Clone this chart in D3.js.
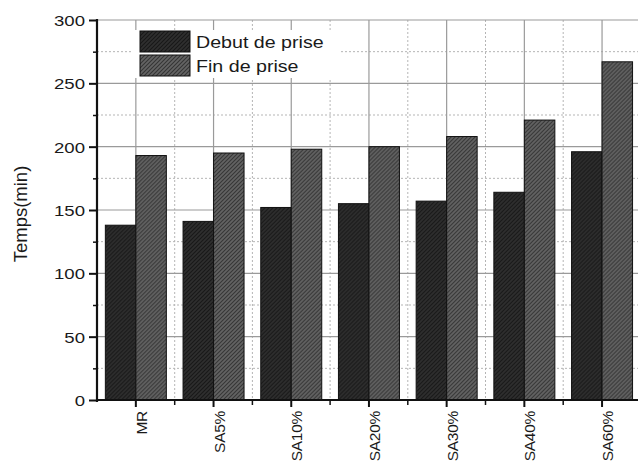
<!DOCTYPE html>
<html>
<head>
<meta charset="utf-8">
<script src="https://cdn.jsdelivr.net/npm/d3@7"></script>
<style>
  html, body { margin: 0; padding: 0; background: #fff; }
  svg { display: block; font-family: "Liberation Sans", Arial, sans-serif; }
</style>
</head>
<body>
<svg id="chart" width="638" height="466"></svg>
<script>
// Setting times of the mortar mixes (minutes)
const categories = ["MR", "SA5%", "SA10%", "SA20%", "SA30%", "SA40%", "SA60%"];
const seriesNames = ["Debut de prise", "Fin de prise"];
const debutValues = [138, 141, 152, 155, 157, 164, 196];
const finValues = [193, 195, 198, 200, 208, 221, 267];
const yTicks = [0, 50, 100, 150, 200, 250, 300];
const yMinorTicks = [25, 75, 125, 175, 225, 275];
const yTitle = "Temps(min)";

const svg = d3.select("#chart");
const plotLeft = 97, plotTop = 20, plotBottom = 400;
const step = 77.7;
const plotRight = plotLeft + categories.length * step;

const x = d3.scaleBand().domain(categories).range([plotLeft, plotRight])
  .paddingInner(0.215).paddingOuter(0.1075);
const xs = d3.scaleBand().domain(seriesNames).range([0, x.bandwidth()]);
const y = d3.scaleLinear().domain([0, 300]).range([plotBottom, plotTop]);

// Hatch patterns for the two series
const defs = svg.append("defs");
const hatch = [
  { id: "hatch0", bg: "#2f2f2f", line: "#171717" },
  { id: "hatch1", bg: "#646464", line: "#343434" }
];
hatch.forEach(h => {
  const p = defs.append("pattern").attr("id", h.id)
    .attr("patternUnits", "userSpaceOnUse").attr("width", 4).attr("height", 4);
  p.append("rect").attr("width", 4).attr("height", 4).attr("fill", h.bg);
  p.append("path").attr("d", "M-1,1 l2,-2 M0,4 l4,-4 M3,5 l2,-2")
    .attr("stroke", h.line).attr("stroke-width", 1.1);
});

// Category centres and boundaries between categories
const centers = categories.map(c => x(c) + x.bandwidth() / 2);
const bounds = centers.slice(0, -1).map(c => c + x.step() / 2);

// Grid
const grid = svg.append("g");
grid.selectAll(".hmin").data(yMinorTicks).join("line")
  .attr("x1", plotLeft).attr("x2", 638).attr("y1", d => y(d)).attr("y2", d => y(d))
  .attr("stroke", "#b5b5b5").attr("stroke-width", 1).attr("stroke-dasharray", "2,2");
grid.selectAll(".vmin").data(bounds).join("line")
  .attr("x1", d => d).attr("x2", d => d).attr("y1", plotTop).attr("y2", plotBottom)
  .attr("stroke", "#b5b5b5").attr("stroke-width", 1).attr("stroke-dasharray", "2,2");
grid.selectAll(".hmaj").data(yTicks.slice(1)).join("line")
  .attr("x1", plotLeft).attr("x2", 638).attr("y1", d => y(d)).attr("y2", d => y(d))
  .attr("stroke", "#9a9a9a").attr("stroke-width", 1.2);
grid.selectAll(".vmaj").data(centers).join("line")
  .attr("x1", d => d).attr("x2", d => d).attr("y1", plotTop).attr("y2", plotBottom)
  .attr("stroke", "#9a9a9a").attr("stroke-width", 1.2);

// Bars
const rows = categories.map((c, i) => ({ cat: c, values: [debutValues[i], finValues[i]] }));
const groups = svg.append("g").selectAll("g").data(rows).join("g")
  .attr("transform", d => `translate(${x(d.cat)},0)`);
groups.selectAll("rect").data(d => d.values.map((v, k) => ({ name: seriesNames[k], k, v })))
  .join("rect")
  .attr("x", d => xs(d.name))
  .attr("width", xs.bandwidth())
  .attr("y", d => y(d.v))
  .attr("height", d => y(0) - y(d.v))
  .attr("fill", d => `url(#hatch${d.k})`)
  .attr("stroke", "#111").attr("stroke-width", 1);

// Legend
const lg = svg.append("g");
lg.append("rect").attr("x", 133).attr("y", 30).attr("width", 208).attr("height", 48).attr("fill", "#fff");
seriesNames.forEach((n, k) => {
  const yy = 31 + k * 24;
  lg.append("rect").attr("x", 140).attr("y", yy).attr("width", 50).attr("height", 21)
    .attr("fill", `url(#hatch${k})`).attr("stroke", "#111").attr("stroke-width", 1);
  lg.append("text").text(n)
    .attr("transform", `translate(196,${yy + 17}) scale(1.19,1)`)
    .attr("font-size", 16.5).attr("fill", "#1a1a1a");
});

// Y axis
const yAxis = svg.append("g").attr("transform", `translate(${plotLeft},0)`)
  .call(d3.axisLeft(y).tickValues(yTicks).tickSize(8).tickPadding(4).tickFormat(d3.format("d")));
yAxis.select(".domain").remove();
yAxis.selectAll(".tick line").attr("stroke", "#111").attr("stroke-width", 2);
yAxis.selectAll(".tick text")
  .attr("font-size", 15.5).attr("fill", "#1a1a1a")
  .attr("x", 0).attr("dy", "0.36em")
  .attr("transform", "translate(-12,0) scale(1.2,1)");
svg.append("g").attr("transform", `translate(${plotLeft},0)`)
  .call(d3.axisLeft(y).tickValues(yMinorTicks).tickSize(4).tickFormat(""))
  .call(g => g.select(".domain").remove())
  .selectAll(".tick line").attr("stroke", "#111").attr("stroke-width", 1.5);
svg.append("line").attr("x1", plotLeft).attr("x2", plotLeft).attr("y1", plotTop - 1).attr("y2", plotBottom + 2)
  .attr("stroke", "#111").attr("stroke-width", 2.2);

// X axis
const xAxis = svg.append("g").attr("transform", `translate(0,${plotBottom})`)
  .call(d3.axisBottom(x).tickSize(7).tickSizeOuter(0));
xAxis.select(".domain").remove();
xAxis.selectAll(".tick line").attr("stroke", "#111").attr("stroke-width", 2);
xAxis.selectAll(".tick text")
  .attr("font-size", 15.5).attr("fill", "#1a1a1a")
  .attr("x", 0).attr("y", 0).attr("dy", 0)
  .attr("text-anchor", "end")
  .attr("letter-spacing", "-0.3px")
  .attr("transform", "translate(11,11) rotate(-90)");
svg.append("g").selectAll("line").data(bounds).join("line")
  .attr("x1", d => d).attr("x2", d => d).attr("y1", plotBottom).attr("y2", plotBottom + 5)
  .attr("stroke", "#111").attr("stroke-width", 1.5);
svg.append("line").attr("x1", plotLeft - 1).attr("x2", 638).attr("y1", plotBottom).attr("y2", plotBottom)
  .attr("stroke", "#111").attr("stroke-width", 2.2);

// Y axis title
svg.append("text").text(yTitle)
  .attr("transform", "translate(27,214) rotate(-90)")
  .attr("text-anchor", "middle").attr("font-size", 18.5).attr("fill", "#1a1a1a");
</script>
</body>
</html>
